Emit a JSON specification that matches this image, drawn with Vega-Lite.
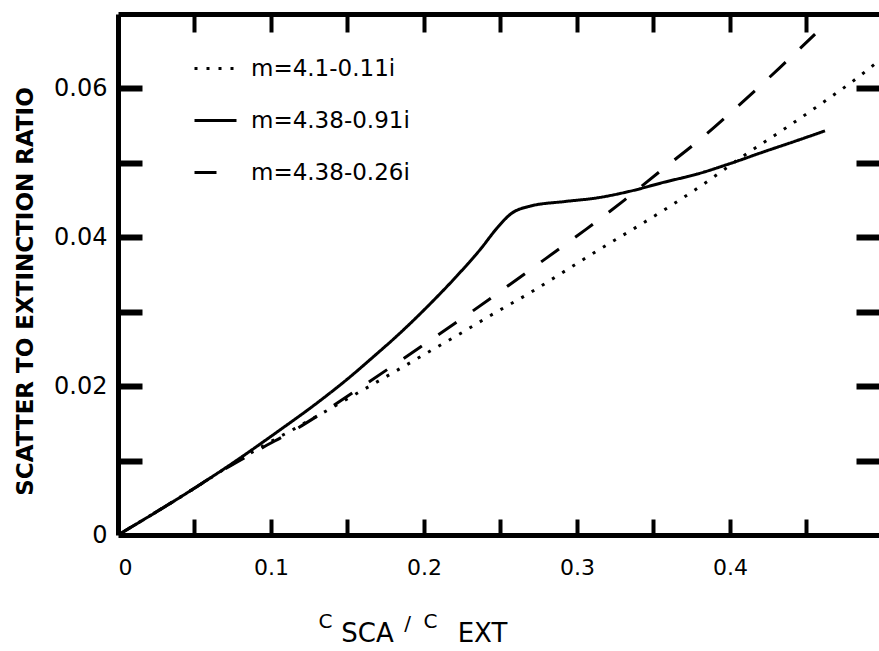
{
  "$schema": "https://vega.github.io/schema/vega-lite/v6.json",
  "width": 761,
  "height": 521,
  "autosize": {"type": "none"},
  "padding": {"left": 118, "top": 14, "right": 0, "bottom": 116},
  "background": "white",
  "config": {
    "view": {"stroke": null},
    "font": "DejaVu Sans",
    "axis": {
      "grid": false,
      "domainColor": "black",
      "domainWidth": 5,
      "tickColor": "black",
      "labelColor": "black",
      "titleColor": "black",
      "labelFont": "DejaVu Sans",
      "titleFont": "DejaVu Sans",
      "titleFontWeight": "normal"
    }
  },
  "data": {
    "values": [
      {"s": "m=4.38-0.91i", "x": 0, "y": 0},
      {"s": "m=4.38-0.91i", "x": 0.047, "y": 0.0059},
      {"s": "m=4.38-0.91i", "x": 0.0738, "y": 0.0095},
      {"s": "m=4.38-0.91i", "x": 0.1044, "y": 0.0139},
      {"s": "m=4.38-0.91i", "x": 0.1305, "y": 0.0178},
      {"s": "m=4.38-0.91i", "x": 0.152, "y": 0.0213},
      {"s": "m=4.38-0.91i", "x": 0.165, "y": 0.0236},
      {"s": "m=4.38-0.91i", "x": 0.1847, "y": 0.0272},
      {"s": "m=4.38-0.91i", "x": 0.2023, "y": 0.0307},
      {"s": "m=4.38-0.91i", "x": 0.2219, "y": 0.0349},
      {"s": "m=4.38-0.91i", "x": 0.2369, "y": 0.0384},
      {"s": "m=4.38-0.91i", "x": 0.248, "y": 0.0413},
      {"s": "m=4.38-0.91i", "x": 0.2565, "y": 0.0431},
      {"s": "m=4.38-0.91i", "x": 0.2696, "y": 0.0442},
      {"s": "m=4.38-0.91i", "x": 0.2918, "y": 0.0448},
      {"s": "m=4.38-0.91i", "x": 0.3133, "y": 0.0453},
      {"s": "m=4.38-0.91i", "x": 0.3349, "y": 0.0462},
      {"s": "m=4.38-0.91i", "x": 0.357, "y": 0.0474},
      {"s": "m=4.38-0.91i", "x": 0.3786, "y": 0.0485},
      {"s": "m=4.38-0.91i", "x": 0.4, "y": 0.0499},
      {"s": "m=4.38-0.91i", "x": 0.4223, "y": 0.0515},
      {"s": "m=4.38-0.91i", "x": 0.4439, "y": 0.053},
      {"s": "m=4.38-0.91i", "x": 0.4621, "y": 0.0543},

      {"s": "m=4.38-0.26i", "x": 0, "y": 0},
      {"s": "m=4.38-0.26i", "x": 0.047, "y": 0.0059},
      {"s": "m=4.38-0.26i", "x": 0.0653, "y": 0.0083},
      {"s": "m=4.38-0.26i", "x": 0.0933, "y": 0.0116},
      {"s": "m=4.38-0.26i", "x": 0.1162, "y": 0.0142},
      {"s": "m=4.38-0.26i", "x": 0.1364, "y": 0.0168},
      {"s": "m=4.38-0.26i", "x": 0.1606, "y": 0.0201},
      {"s": "m=4.38-0.26i", "x": 0.1815, "y": 0.023},
      {"s": "m=4.38-0.26i", "x": 0.2037, "y": 0.0261},
      {"s": "m=4.38-0.26i", "x": 0.2298, "y": 0.0298},
      {"s": "m=4.38-0.26i", "x": 0.28, "y": 0.0372},
      {"s": "m=4.38-0.26i", "x": 0.3061, "y": 0.0411},
      {"s": "m=4.38-0.26i", "x": 0.331, "y": 0.045},
      {"s": "m=4.38-0.26i", "x": 0.3557, "y": 0.0491},
      {"s": "m=4.38-0.26i", "x": 0.3825, "y": 0.0535},
      {"s": "m=4.38-0.26i", "x": 0.4067, "y": 0.0579},
      {"s": "m=4.38-0.26i", "x": 0.4321, "y": 0.0627},
      {"s": "m=4.38-0.26i", "x": 0.4556, "y": 0.0673},

      {"s": "m=4.1-0.11i", "x": 0, "y": 0},
      {"s": "m=4.1-0.11i", "x": 0.047, "y": 0.0059},
      {"s": "m=4.1-0.11i", "x": 0.0738, "y": 0.0094},
      {"s": "m=4.1-0.11i", "x": 0.096, "y": 0.0121},
      {"s": "m=4.1-0.11i", "x": 0.1155, "y": 0.0143},
      {"s": "m=4.1-0.11i", "x": 0.139, "y": 0.017},
      {"s": "m=4.1-0.11i", "x": 0.1619, "y": 0.0197},
      {"s": "m=4.1-0.11i", "x": 0.1847, "y": 0.0224},
      {"s": "m=4.1-0.11i", "x": 0.2089, "y": 0.0253},
      {"s": "m=4.1-0.11i", "x": 0.2265, "y": 0.0274},
      {"s": "m=4.1-0.11i", "x": 0.2435, "y": 0.0295},
      {"s": "m=4.1-0.11i", "x": 0.2689, "y": 0.0325},
      {"s": "m=4.1-0.11i", "x": 0.2924, "y": 0.0355},
      {"s": "m=4.1-0.11i", "x": 0.3133, "y": 0.0382},
      {"s": "m=4.1-0.11i", "x": 0.3375, "y": 0.0412},
      {"s": "m=4.1-0.11i", "x": 0.361, "y": 0.0442},
      {"s": "m=4.1-0.11i", "x": 0.3838, "y": 0.0473},
      {"s": "m=4.1-0.11i", "x": 0.4093, "y": 0.0510},
      {"s": "m=4.1-0.11i", "x": 0.4373, "y": 0.0548},
      {"s": "m=4.1-0.11i", "x": 0.4621, "y": 0.0583},
      {"s": "m=4.1-0.11i", "x": 0.485, "y": 0.0617},
      {"s": "m=4.1-0.11i", "x": 0.4948, "y": 0.0633}
    ]
  },
  "layer": [
    {
      "mark": {"type": "line", "color": "black", "strokeWidth": 3, "clip": true, "interpolate": "monotone"},
      "encoding": {
        "x": {
          "field": "x", "type": "quantitative",
          "scale": {"domain": [0, 0.4974], "nice": false},
          "axis": {
            "orient": "bottom",
            "values": [0, 0.1, 0.2, 0.3, 0.4],
            "ticks": false, "domain": true,
            "labelFontSize": 22, "labelPadding": 22,
            "labelExpr": "datum.value == 0 ? '0' : format(datum.value, '.1f')",
            "title": "C", "titleFontSize": 20, "titleX": 207, "titleY": 86,
            "titleAlign": "center", "titleBaseline": "middle"
          }
        },
        "y": {
          "field": "y", "type": "quantitative",
          "scale": {"domain": [0, 0.07], "nice": false},
          "axis": {
            "orient": "left", "values": [0, 0.02, 0.04, 0.06], "ticks": false, "domain": true,
            "labelFontSize": 24, "labelPadding": 11,
            "labelExpr": "datum.value == 0 ? '0' : format(datum.value, '.2f')",
            "title": "SCATTER TO EXTINCTION RATIO", "titleFontSize": 23, "titleFontWeight": "bold",
            "titleX": -93, "titleY": 277, "titleAngle": -90,
            "titleAlign": "center", "titleBaseline": "middle"
          }
        },
        "strokeDash": {
          "field": "s", "type": "nominal",
          "scale": {
            "domain": ["m=4.1-0.11i", "m=4.38-0.91i", "m=4.38-0.26i"],
            "range": [[3, 9], [1, 0], [22, 20]]
          },
          "legend": {
            "orient": "none", "legendX": 75, "legendY": 32, "title": null,
            "symbolType": "stroke", "symbolSize": 1764, "symbolStrokeWidth": 3,
            "symbolStrokeColor": "black", "labelFontSize": 23, "labelFont": "DejaVu Sans",
            "labelColor": "black", "labelOffset": 13, "rowPadding": 17, "padding": 0, "labelLimit": 400
          }
        }
      }
    },
    {
      "mark": {"type": "point", "opacity": 0},
      "encoding": {
        "x": {
          "field": "x", "type": "quantitative",
          "scale": {"domain": [0, 0.4974], "nice": false},
          "axis": {
            "orient": "top", "values": [0.05, 0.1, 0.15, 0.2, 0.25, 0.3, 0.35, 0.4, 0.45],
            "labels": false, "ticks": true, "domain": true, "tickSize": -18, "tickWidth": 4,
            "tickColor": "black", "title": null
          }
        },
        "y": {
          "field": "y", "type": "quantitative",
          "scale": {"domain": [0, 0.07], "nice": false},
          "axis": {
            "orient": "right", "values": [0.01, 0.02, 0.03, 0.04, 0.05, 0.06],
            "labels": false, "domain": false, "tickSize": -23, "tickWidth": 6, "tickColor": "black", "title": null
          }
        }
      }
    },
    {
      "mark": {"type": "point", "opacity": 0},
      "encoding": {
        "x": {
          "field": "x", "type": "quantitative",
          "scale": {"domain": [0, 0.4974], "nice": false},
          "axis": {
            "orient": "bottom", "values": [0.05, 0.1, 0.15, 0.2, 0.25, 0.3, 0.35, 0.4, 0.45],
            "labels": false, "ticks": true, "domain": false, "tickSize": -16, "tickWidth": 4,
            "tickColor": "black",
            "title": "SCA", "titleFontSize": 26, "titleX": 249, "titleY": 98,
            "titleAlign": "center", "titleBaseline": "middle"
          }
        },
        "y": {
          "field": "y", "type": "quantitative",
          "scale": {"domain": [0, 0.07], "nice": false},
          "axis": {
            "orient": "left", "values": [0.01, 0.02, 0.03, 0.04, 0.05, 0.06],
            "labels": false, "domain": false, "tickSize": -24, "tickWidth": 6, "tickColor": "black", "title": null
          }
        }
      }
    },
    {
      "mark": {"type": "point", "opacity": 0},
      "encoding": {
        "x": {
          "field": "x", "type": "quantitative",
          "scale": {"domain": [0, 0.4974], "nice": false},
          "axis": {
            "orient": "bottom", "ticks": false, "labels": false, "domain": false,
            "title": "/", "titleFontSize": 20, "titleX": 289, "titleY": 88,
            "titleAlign": "center", "titleBaseline": "middle"
          }
        },
        "y": {"field": "y", "type": "quantitative", "scale": {"domain": [0, 0.07], "nice": false}, "axis": null}
      }
    },
    {
      "mark": {"type": "point", "opacity": 0},
      "encoding": {
        "x": {
          "field": "x", "type": "quantitative",
          "scale": {"domain": [0, 0.4974], "nice": false},
          "axis": {
            "orient": "bottom", "ticks": false, "labels": false, "domain": false,
            "title": "C", "titleFontSize": 20, "titleX": 312, "titleY": 86,
            "titleAlign": "center", "titleBaseline": "middle"
          }
        },
        "y": {"field": "y", "type": "quantitative", "scale": {"domain": [0, 0.07], "nice": false}, "axis": null}
      }
    },
    {
      "mark": {"type": "point", "opacity": 0},
      "encoding": {
        "x": {
          "field": "x", "type": "quantitative",
          "scale": {"domain": [0, 0.4974], "nice": false},
          "axis": {
            "orient": "bottom", "ticks": false, "labels": false, "domain": false,
            "title": "EXT", "titleFontSize": 26, "titleX": 364, "titleY": 98,
            "titleAlign": "center", "titleBaseline": "middle"
          }
        },
        "y": {"field": "y", "type": "quantitative", "scale": {"domain": [0, 0.07], "nice": false}, "axis": null}
      }
    }
  ],
  "resolve": {"axis": {"x": "independent", "y": "independent"}}
}
